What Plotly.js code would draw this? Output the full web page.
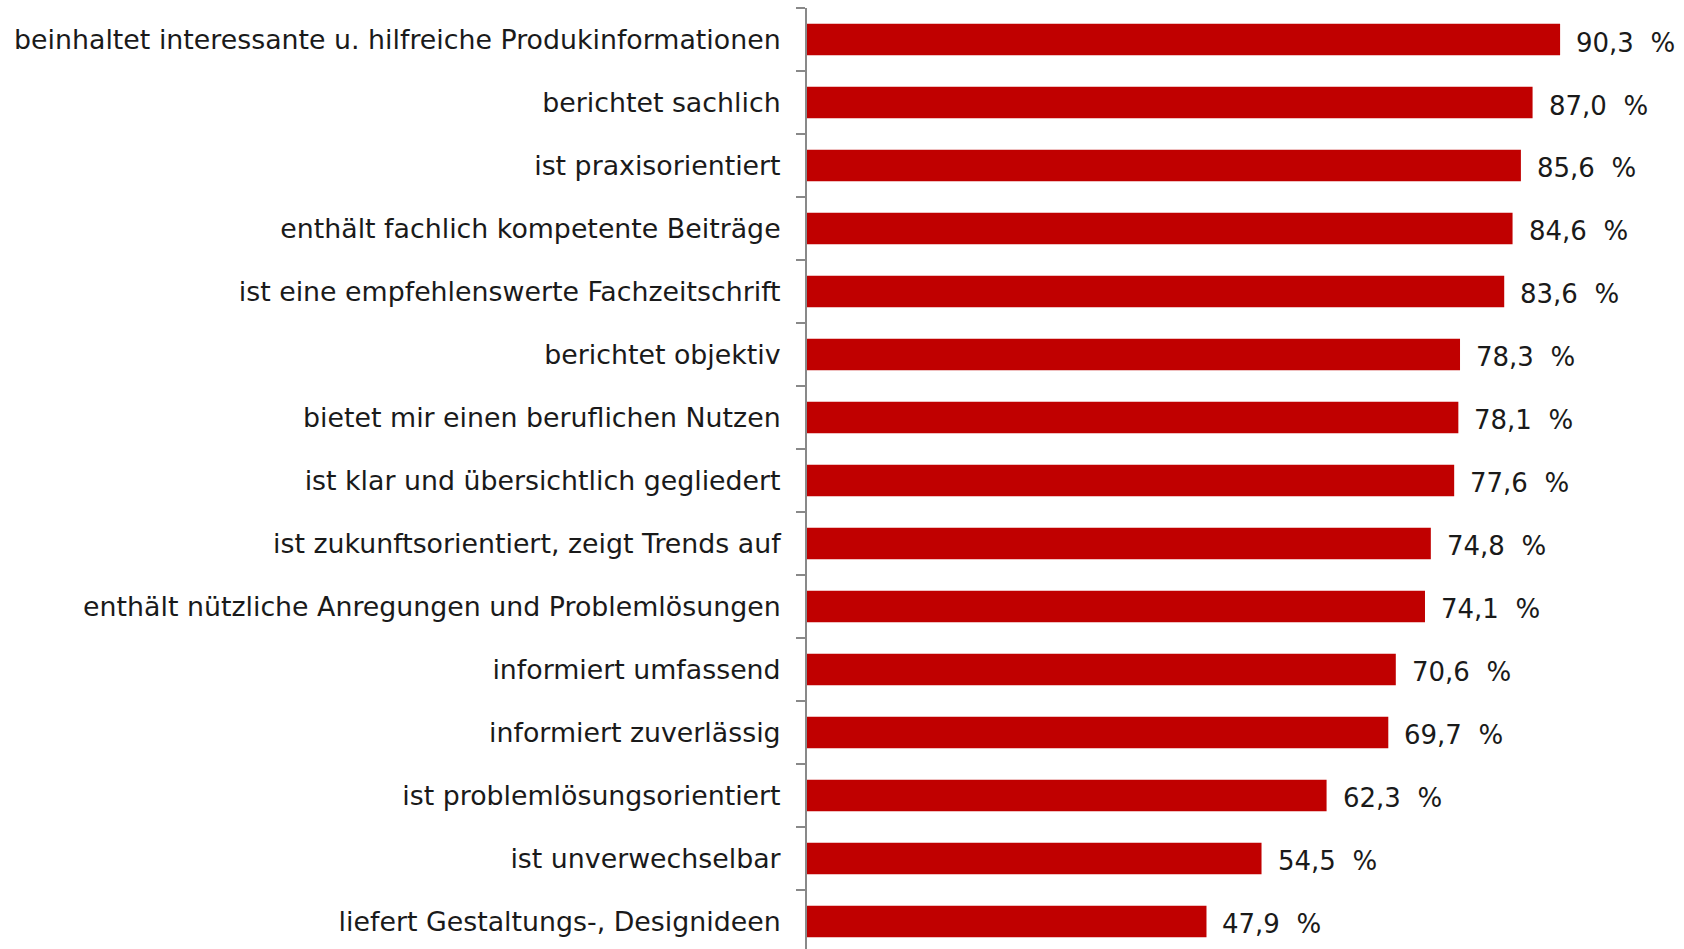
<!DOCTYPE html>
<html><head><meta charset="utf-8">
<script src="https://cdn.plot.ly/plotly-3.0.1.min.js"></script>
<style>html,body{margin:0;padding:0;background:#fff}#c{width:1684px;height:949px}</style>
</head><body><div id="c"></div>
<script>
const categories = [
  "beinhaltet interessante u. hilfreiche Produkinformationen",
  "berichtet sachlich",
  "ist praxisorientiert",
  "enthält fachlich kompetente Beiträge",
  "ist eine empfehlenswerte Fachzeitschrift",
  "berichtet objektiv",
  "bietet mir einen beruflichen Nutzen",
  "ist klar und übersichtlich gegliedert",
  "ist zukunftsorientiert, zeigt Trends auf",
  "enthält nützliche Anregungen und Problemlösungen",
  "informiert umfassend",
  "informiert zuverlässig",
  "ist problemlösungsorientiert",
  "ist unverwechselbar",
  "liefert Gestaltungs-, Designideen"
];
const values = [90.3, 87.0, 85.6, 84.6, 83.6, 78.3, 78.1, 77.6, 74.8, 74.1, 70.6, 69.7, 62.3, 54.5, 47.9];
const labels = values.map(v => v.toFixed(1).replace('.', ',') + '\u00a0\u00a0%');

const FONT = 'DejaVu Sans, Verdana, sans-serif';
const trace = {
  type: 'bar', orientation: 'h',
  x: values, y: categories,
  width: 0.5,
  marker: {color: '#C00000'},
  hoverinfo: 'skip'
};
const annotations = values.map((v, i) => ({
  x: v, y: categories[i], xref: 'x', yref: 'y',
  text: labels[i], showarrow: false, xanchor: 'left', xshift: 14, yshift: -3,
  font: {family: FONT, size: 26, color: '#1a1a1a'}
}));
const layout = {
  width: 1684, height: 949,
  margin: {l: 807, r: 43, t: 8, b: 0, pad: 0},
  paper_bgcolor: '#fff', plot_bgcolor: '#fff',
  showlegend: false,
  xaxis: {range: [0, 100], visible: false, fixedrange: true},
  yaxis: {
    type: 'category', categoryorder: 'array', categoryarray: categories,
    range: [14.437, -0.5], autorange: false,
    showline: true, linecolor: '#898989', linewidth: 2,
    ticks: 'outside', tickson: 'boundaries', ticklen: 9, tickcolor: '#898989', tickwidth: 1.5,
    ticklabelstandoff: 19,
    showgrid: false, zeroline: false,
    tickfont: {family: FONT, size: 26.8, color: '#1a1a1a'}
  },
  annotations: annotations
};
Plotly.newPlot('c', [trace], layout, {displayModeBar: false, staticPlot: true});
</script></body></html>
